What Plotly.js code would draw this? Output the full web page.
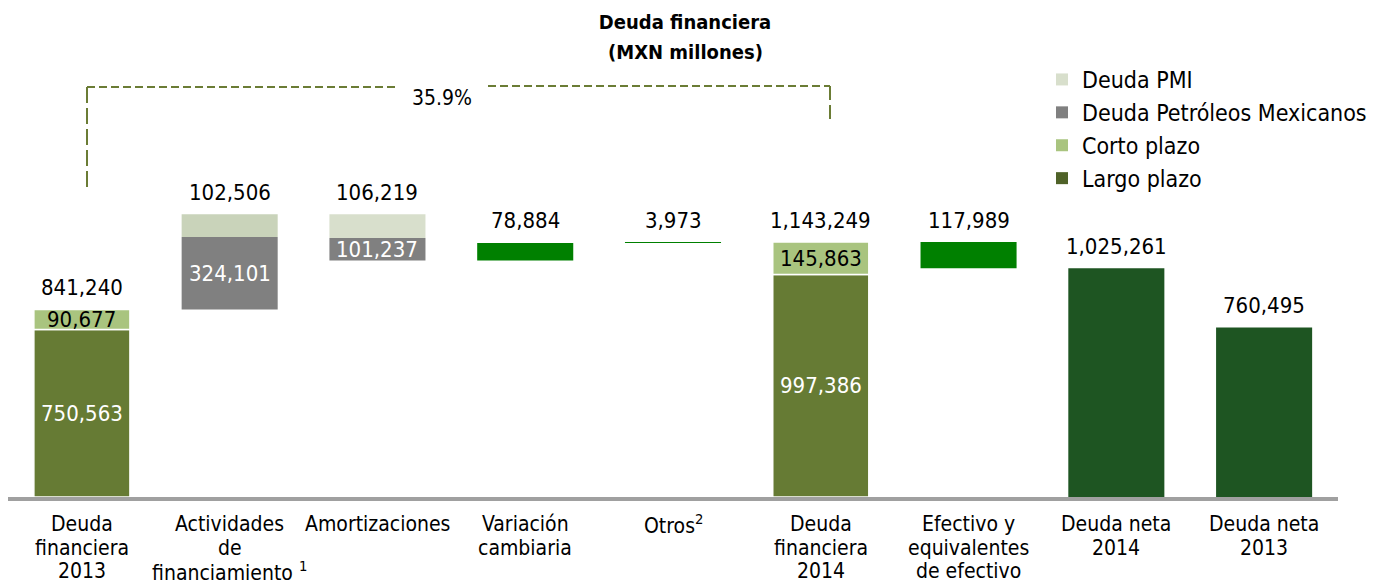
<!DOCTYPE html>
<html><head><meta charset="utf-8">
<script src="https://cdn.plot.ly/plotly-3.0.1.min.js"></script>
<style>html,body{margin:0;padding:0;background:#fff;} #chart{width:1390px;height:584px;}</style>
</head><body><div id="chart"></div>
<script>
// ---- data ----
const categoryLines = [
  ["Deuda","financiera","2013"],
  ["Actividades","de","financiamiento <sup>1</sup>"],
  ["Amortizaciones"],
  ["Variación","cambiaria"],
  ["Otros<sup>2</sup>"],
  ["Deuda","financiera","2014"],
  ["Efectivo y","equivalentes","de efectivo"],
  ["Deuda neta","2014"],
  ["Deuda neta","2013"]
];
const barKind    = ["total","delta","delta","delta","delta","total","delta","total","total"];
const largoPlazo = [750563, null, null, null, null, 997386, null, null, null];
const cortoPlazo = [90677, null, null, null, null, 145863, null, null, null];
const deudaPemex = [null, 324101, -101237, null, null, null, null, null, null];
const deudaPMI   = [null, 102506, -106219, null, null, null, null, null, null];
const ajustes    = [null, null, null, 78884, 3973, null, -117989, null, null];
const deudaNeta  = [null, null, null, null, null, null, null, 1025261, 760495];
const topLabels  = [841240, 102506, 106219, 78884, 3973, 1143249, 117989, 1025261, 760495];
const crecimiento = "35.9%";
const legendNames = ["Deuda PMI","Deuda Petróleos Mexicanos","Corto plazo","Largo plazo"];
const chartTitle = "Deuda financiera";
const chartSubtitle = "(MXN millones)";

// ---- layout geometry ----
const W = 1390, H = 584, M = {l: 8, r: 52, t: 20, b: 87};
const plotW = W - M.l - M.r, plotH = H - M.t - M.b;
const px = X => (X - M.l) / plotW;
const py = Y => (H - M.b - Y) / plotH;
const yMax = plotH * 4484;
const FONT = "DejaVu Sans Condensed, DejaVu Sans, sans-serif";

// ---- waterfall bases ----
const n = categoryLines.length;
const xs = [...Array(n).keys()];
const val = (a, i) => (a[i] == null ? 0 : a[i]);
const baseLargo = [], baseCorto = [], basePemex = [], basePMI = [], baseAjuste = [], baseNeta = [], barTop = [];
let level = 0;
for (let i = 0; i < n; i++) {
  if (barKind[i] === "total") {
    baseLargo[i] = 0; baseNeta[i] = 0;
    baseCorto[i] = val(largoPlazo, i);
    level = val(largoPlazo, i) + val(cortoPlazo, i) + val(deudaNeta, i);
    barTop[i] = level;
  } else {
    const start = level;
    const segs = [[deudaPemex, basePemex], [deudaPMI, basePMI], [ajustes, baseAjuste]];
    const up = segs.filter(s => val(s[0], i) > 0);
    const down = segs.filter(s => val(s[0], i) < 0).reverse();
    up.forEach(s => { s[1][i] = level; level += s[0][i]; });
    down.forEach(s => { s[1][i] = level; level += s[0][i]; });
    barTop[i] = Math.max(start, level);
  }
}

const BW = 0.65;
const common = {type: "bar", x: xs, width: BW, showlegend: false, hoverinfo: "skip"};
const traces = [
  Object.assign({}, common, {y: largoPlazo, base: baseLargo, marker: {color: "#667b34", line: {color: "#ffffff", width: 1.5}}}),
  Object.assign({}, common, {y: cortoPlazo, base: baseCorto, marker: {color: "#a9c47f", line: {color: "#ffffff", width: 1.5}}}),
  Object.assign({}, common, {y: deudaPemex, base: basePemex, marker: {color: "#808080"}}),
  Object.assign({}, common, {y: deudaPMI, base: basePMI, marker: {color: xs.map(i => i === 1 ? "#c9d3ba" : "#d8dfcc")}}),
  Object.assign({}, common, {y: ajustes, base: baseAjuste, marker: {color: "#008000"}}),
  Object.assign({}, common, {y: deudaNeta, base: baseNeta, marker: {color: "#1e5522"}})
];
// legend entries
const legendColors = ["#d8dfcc", "#808080", "#a9c47f", "#4f6228"];
legendNames.forEach((nm, k) => traces.push({type: "bar", x: [null], y: [null], name: nm, marker: {color: legendColors[k]}, showlegend: true, hoverinfo: "skip"}));

const fmt = v => Math.abs(v).toLocaleString("en-US");
const annotations = [];
// totals / deltas above bars
xs.forEach(i => annotations.push({x: i, y: barTop[i], xref: "x", yref: "y", text: fmt(topLabels[i]), showarrow: false,
  xanchor: "center", yanchor: "middle", yshift: 22, font: {family: FONT, size: 22, color: "#000"}}));
// inside segment labels
function inside(arr, base, color) {
  xs.forEach(i => { if (arr[i] != null) annotations.push({x: i, y: base[i] + arr[i] / 2, xref: "x", yref: "y", text: fmt(arr[i]),
    showarrow: false, xanchor: "center", yanchor: "middle", font: {family: FONT, size: 22, color: color}}); });
}
inside(largoPlazo, baseLargo, "#ffffff");
inside(cortoPlazo, baseCorto, "#000000");
inside(deudaPemex, basePemex, "#ffffff");
// category labels
const lineY = [524, 548, 571];
categoryLines.forEach((lines, i) => lines.forEach((t, k) => annotations.push({x: i, y: py(lineY[k]), xref: "x", yref: "paper",
  text: t, showarrow: false, xanchor: "center", yanchor: "middle", font: {family: FONT, size: 21, color: "#000"}})));
// growth label + subtitle
annotations.push({x: px(442), y: py(98), xref: "paper", yref: "paper", text: crecimiento, showarrow: false,
  xanchor: "center", yanchor: "middle", font: {family: FONT, size: 21, color: "#000"}});
annotations.push({x: px(685), y: py(52), xref: "paper", yref: "paper", text: "<b>" + chartSubtitle + "</b>", showarrow: false,
  xanchor: "center", yanchor: "middle", font: {family: FONT, size: 20, color: "#000"}});

const dashColor = "#6b7c35";
const shapes = [
  {type: "line", xref: "paper", yref: "paper", x0: px(87), x1: px(398), y0: py(87), y1: py(87), line: {color: dashColor, width: 2, dash: "8px,4px"}},
  {type: "line", xref: "paper", yref: "paper", x0: px(488), x1: px(830), y0: py(86), y1: py(86), line: {color: dashColor, width: 2, dash: "8px,4px"}},
  {type: "line", xref: "paper", yref: "paper", x0: px(87), x1: px(87), y0: py(87), y1: py(192), line: {color: dashColor, width: 2, dash: "16px,5px"}},
  {type: "line", xref: "paper", yref: "paper", x0: px(830), x1: px(830), y0: py(86), y1: py(119), line: {color: dashColor, width: 2, dash: "14px,5px"}}
];

const layout = {
  width: W, height: H, margin: M, paper_bgcolor: "#fff", plot_bgcolor: "#fff",
  font: {family: FONT, color: "#000"},
  title: {text: "<b>" + chartTitle + "</b>", x: 685 / W, xanchor: "center", y: 1 - 22 / H, yanchor: "middle", yref: "container",
    font: {family: FONT, size: 20, color: "#000"}},
  barmode: "overlay",
  xaxis: {range: [-0.5, 8.5], showgrid: false, zeroline: false, showline: true, linecolor: "#a0a0a0", linewidth: 4,
    showticklabels: false, ticks: "", fixedrange: true},
  yaxis: {range: [0, yMax], showgrid: false, zeroline: false, showline: false, showticklabels: false, ticks: "", fixedrange: true},
  legend: {x: px(1042), y: py(58), xanchor: "left", yanchor: "top", font: {family: FONT, size: 23, color: "#000"},
    bgcolor: "rgba(0,0,0,0)", traceorder: "normal", tracegroupgap: 0},
  annotations: annotations, shapes: shapes, showlegend: true
};
Plotly.newPlot("chart", traces, layout, {displayModeBar: false, staticPlot: true});
</script></body></html>
